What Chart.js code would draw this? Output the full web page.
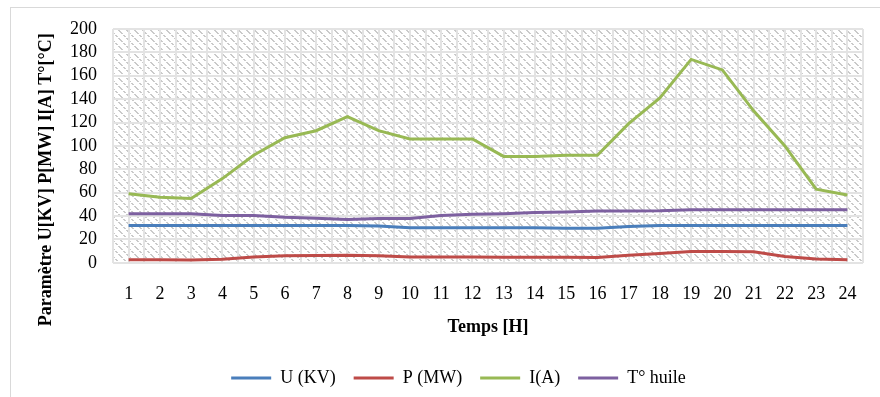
<!DOCTYPE html>
<html>
<head>
<meta charset="utf-8">
<script src="https://cdn.jsdelivr.net/npm/chart.js@4/dist/chart.umd.min.js"></script>
<style>
  html, body { margin: 0; padding: 0; background: #fff; }
  #wrap { width: 880px; height: 397px; }
</style>
</head>
<body>
<div id="wrap"><canvas id="c" width="880" height="397"></canvas></div>
<script>
// Hourly measurements over one day
const hours = ['1','2','3','4','5','6','7','8','9','10','11','12','13','14','15','16','17','18','19','20','21','22','23','24'];
const tensionKV = [32,32,32,32,32,32,32,32,31.5,30,30,30,30,30,29.5,29.5,31,32,32,32,32,32,32,32];
const powerMW   = [2.6,2.6,2.4,3,5,6,6.2,6.5,6,5,5,5,4.8,4.8,4.8,4.6,6.5,8,9.7,9.7,9.5,5.4,3.2,2.6];
const currentA  = [59,56,55,72,92,107,113,125,113,106,106,106,91,91,92,92,119,141,174,165,130,100,63,58];
const oilTemp   = [42,42,42,40.5,40.5,39,38.2,37,37.9,38,40.5,41.5,42,43,43.5,44.4,44.4,44.5,45.3,45.3,45.3,45.3,45.3,45.3];
const yTicks    = [0,20,40,60,80,100,120,140,160,180,200];

const serif = "'Liberation Serif', 'Times New Roman', serif";
const FS = 18;
Chart.defaults.font.family = serif;
Chart.defaults.font.size = FS;
Chart.defaults.color = '#000';

// diagonal hatch tile used as plot-area fill
function hatchPattern(ctx) {
  const t = document.createElement('canvas');
  t.width = 8; t.height = 8;
  const g = t.getContext('2d');
  g.fillStyle = '#ffffff';
  g.fillRect(0, 0, 8, 8);
  g.fillStyle = '#cacaca';
  for (let i = 0; i < 8; i++) {
    if (i % 3 === 2) continue;
    g.fillRect(i, i, 1, 1);
    g.fillRect((i + 1) % 8, i, 1, 1);
  }
  return ctx.createPattern(t, 'repeat');
}

const plotDecor = {
  id: 'plotDecor',
  beforeDraw(chart) {
    const { ctx, chartArea: a } = chart;
    ctx.save();
    ctx.fillStyle = hatchPattern(ctx);
    ctx.fillRect(a.left, a.top, a.right - a.left, a.bottom - a.top);
    ctx.restore();
  },
  beforeDatasetsDraw(chart) {
    // minor vertical lines through each category centre
    const { ctx, chartArea: a, scales } = chart;
    ctx.save();
    ctx.strokeStyle = '#e3e3e3';
    ctx.lineWidth = 2;
    hours.forEach((h, i) => {
      const x = Math.round(scales.x.getPixelForValue(i));
      ctx.beginPath();
      ctx.moveTo(x, a.top);
      ctx.lineTo(x, a.bottom);
      ctx.stroke();
    });
    ctx.restore();
  },
  afterDraw(chart) {
    const { ctx, chartArea: a } = chart;
    ctx.save();
    // outer frame
    ctx.strokeStyle = '#d9d9d9';
    ctx.lineWidth = 1;
    ctx.strokeRect(10.5, 7.5, 900, 400);
    // vertical axis title
    ctx.translate(46, a.bottom - 83);
    ctx.rotate(-Math.PI / 2);
    ctx.font = 'bold ' + FS + 'px ' + serif;
    ctx.fillStyle = '#000';
    ctx.textAlign = 'center';
    ctx.textBaseline = 'middle';
    ctx.fillText('Paramètre U[KV] P[MW] I[A] T°[°C]', 0, 0);
    ctx.restore();
  }
};

const line = (label, data, color) => ({
  label, data,
  borderColor: color,
  backgroundColor: color,
  borderWidth: 3,
  pointRadius: 0,
  pointHoverRadius: 0,
  tension: 0,
  fill: false
});

new Chart(document.getElementById('c'), {
  type: 'line',
  data: {
    labels: hours,
    datasets: [
      line('U (KV)', tensionKV, '#4a7ebb'),
      line('P (MW)', powerMW, '#be4b48'),
      line('I(A)', currentA, '#98b954'),
      line('T° huile', oilTemp, '#7d60a0')
    ]
  },
  options: {
    responsive: false,
    animation: false,
    layout: { padding: { left: 54, right: 17, top: 29, bottom: 0 } },
    plugins: {
      legend: {
        position: 'bottom',
        labels: {
          usePointStyle: true,
          pointStyle: 'line',
          pointStyleWidth: 40,
          padding: 18,
          color: '#000',
          font: { size: FS, family: serif }
        }
      },
      tooltip: { enabled: false }
    },
    scales: {
      x: {
        offset: true,
        grid: { offset: true, color: '#e3e3e3', lineWidth: 2, drawTicks: false },
        border: { display: false },
        ticks: { padding: 21, maxRotation: 0, autoSkip: false },
        title: {
          display: true,
          text: 'Temps [H]',
          font: { weight: 'bold', size: FS, family: serif },
          padding: { top: -10, bottom: 13 }
        }
      },
      y: {
        min: 0, max: 200,
        afterBuildTicks(scale) { scale.ticks = yTicks.map(v => ({ value: v })); },
        grid: { color: '#e3e3e3', lineWidth: 2, drawTicks: false },
        border: { display: false },
        ticks: { padding: 16, autoSkip: false }
      }
    }
  },
  plugins: [plotDecor]
});
</script>
</body>
</html>
